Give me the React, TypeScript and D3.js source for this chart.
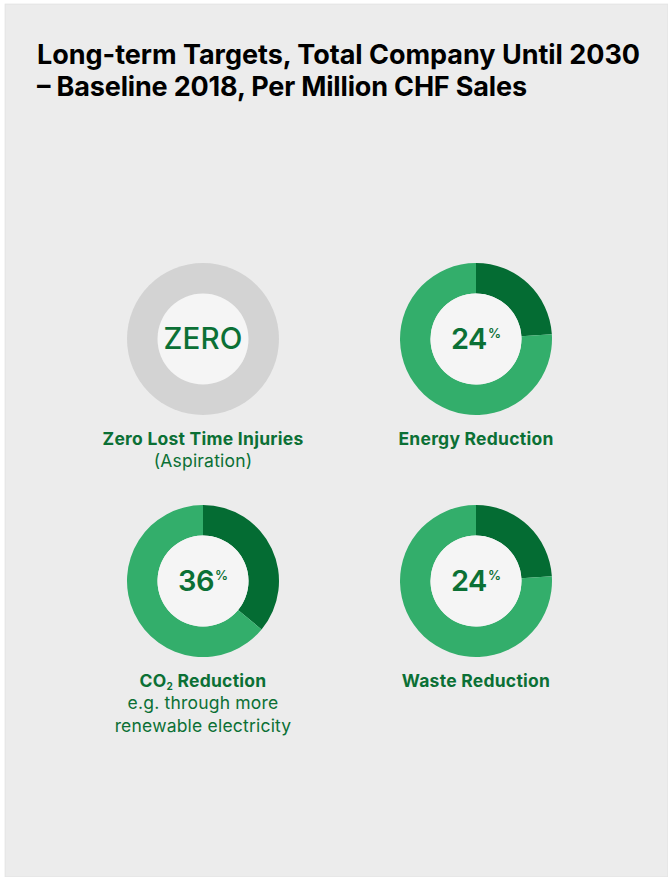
import React, { useRef, useEffect } from "react";
import * as d3 from "d3";

// chart data
const titleLines = [
  "Long-term Targets, Total Company Until 2030",
  "– Baseline 2018, Per Million CHF Sales",
];
const targetNames = ["Zero Lost Time Injuries", "Energy Reduction", "CO2 Reduction", "Waste Reduction"];
const targetValues = [0, 24, 36, 24];
const centerLabels = ["ZERO", "24", "36", "24"];
const subLabels = [["(Aspiration)"], [], ["e.g. through more", "renewable electricity"], []];

const App = () => {
  const svgRef = useRef(null);

  useEffect(() => {
    const width = 668;
    const height = 877;
    const font = "Inter, 'Noto Sans', sans-serif";

    const colors = {
      panel: "#ececec",
      ring: "#d3d3d3",
      dark: "#046c33",
      light: "#33ae6b",
      hole: "#f5f5f5",
      text: "#0b7035",
    };

    const svg = d3.select(svgRef.current).attr("width", width).attr("height", height);
    svg.selectAll("*").remove();

    svg.append("rect").attr("width", width).attr("height", height).attr("fill", "#fff");
    svg
      .append("rect")
      .attr("x", 5)
      .attr("y", 4)
      .attr("width", width - 5)
      .attr("height", height - 4)
      .attr("fill", colors.panel)
      .attr("stroke", "#dedede")
      .attr("stroke-width", 0.6);

    // title
    const titleWidths = [603, 490];
    titleLines.forEach((line, i) => {
      svg
        .append("text")
        .attr("x", 37)
        .attr("y", 64 + i * 32)
        .attr("textLength", titleWidths[i])
        .attr("lengthAdjust", "spacing")
        .attr("font-family", font)
        .attr("font-weight", 700)
        .attr("font-size", 27)
        .attr("fill", "#000")
        .text(line);
    });

    const xPos = d3.scalePoint().domain([0, 1]).range([203, 476]);
    const yPos = d3.scalePoint().domain([0, 1]).range([339, 581]);

    const outerR = 76;
    const innerR = 45.5;
    const arc = d3.arc().innerRadius(innerR).outerRadius(outerR);
    const pie = d3.pie().sort(null).value((d) => d);

    targetNames.forEach((name, i) => {
      const cx = xPos(i % 2);
      const cy = yPos(Math.floor(i / 2));
      const g = svg.append("g").attr("transform", `translate(${cx},${cy})`);
      const v = targetValues[i];

      if (v === 0) {
        g.append("circle").attr("r", outerR).attr("fill", colors.ring);
      } else {
        g.selectAll("path")
          .data(pie([v, 100 - v]))
          .join("path")
          .attr("d", arc)
          .attr("fill", (d, j) => (j === 0 ? colors.dark : colors.light));
      }
      g.append("circle").attr("r", innerR).attr("fill", colors.hole);

      // center value
      if (v === 0) {
        g.append("text")
          .attr("text-anchor", "middle")
          .attr("y", 10)
          .attr("font-family", font)
          .attr("font-weight", 500)
          .attr("font-size", 29.5)
          .attr("letter-spacing", 0.2)
          .attr("fill", colors.text)
          .text(centerLabels[i]);
      } else {
        const t = g
          .append("text")
          .attr("text-anchor", "middle")
          .attr("y", 10)
          .attr("font-family", font)
          .attr("font-weight", 600)
          .attr("fill", colors.text);
        t.append("tspan").attr("font-size", 29).attr("letter-spacing", -0.5).text(centerLabels[i]);
        t.append("tspan").attr("font-size", 13).attr("dy", -11).attr("dx", 1).text("%");
      }

      // labels below the ring
      const label = g
        .append("text")
        .attr("text-anchor", "middle")
        .attr("y", 106)
        .attr("font-family", font)
        .attr("font-weight", 700)
        .attr("font-size", 17.5)
        .attr("letter-spacing", 0.25)
        .attr("fill", colors.text);
      if (name.startsWith("CO2")) {
        label.append("tspan").text("CO");
        label.append("tspan").attr("font-size", 10).attr("dy", 3).text("2");
        label.append("tspan").attr("dy", -3).text(name.slice(3));
      } else {
        label.text(name);
      }

      subLabels[i].forEach((s, k) => {
        g.append("text")
          .attr("text-anchor", "middle")
          .attr("y", 128 + k * 22.5)
          .attr("font-family", font)
          .attr("font-weight", 400)
          .attr("font-size", 17.5)
          .attr("letter-spacing", 0.2)
          .attr("fill", colors.text)
          .text(s);
      });
    });
  }, []);

  return (
    <div style={{ position: "absolute", left: 0, top: 0 }}>
      <svg ref={svgRef} style={{ display: "block" }}></svg>
    </div>
  );
};

export default App;
